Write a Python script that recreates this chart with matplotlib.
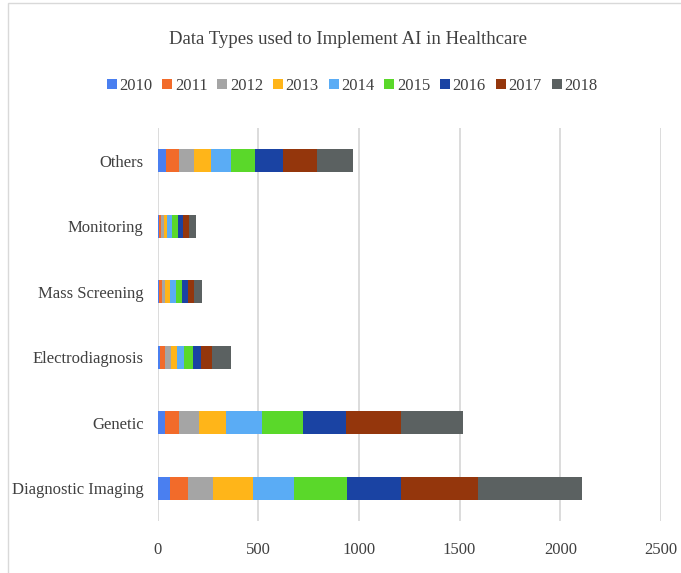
import numpy as np
import matplotlib
matplotlib.use("Agg")
import matplotlib.pyplot as plt
from matplotlib.patches import Rectangle

categories = ["Diagnostic Imaging", "Genetic", "Electrodiagnosis",
              "Mass Screening", "Monitoring", "Others"]
years = ["2010", "2011", "2012", "2013", "2014", "2015", "2016", "2017", "2018"]

# rows follow `categories`, columns follow `years`
diagnostic_imaging = [60, 90, 124, 199, 203, 264, 269, 380, 519]
genetic = [38, 68, 99, 133, 180, 202, 217, 270, 308]
electrodiagnosis = [13, 25, 28, 32, 34, 42, 41, 57, 94]
mass_screening = [8, 13, 17, 26, 26, 30, 31, 28, 40]
monitoring = [7, 10, 13, 18, 23, 30, 28, 28, 36]
others = [41, 68, 73, 82, 102, 119, 137, 168, 179]

x_ticks = [0, 500, 1000, 1500, 2000, 2500]

colors = ["#4a7ff0", "#f26b2a", "#a5a5a5", "#ffb519", "#5aacf5",
          "#5ad82a", "#1a43a3", "#94360c", "#5b6161"]
text_col = "#404040"

plt.rcParams["font.family"] = ["Liberation Serif", "DejaVu Serif"]

data = np.array([diagnostic_imaging, genetic, electrodiagnosis,
                 mass_screening, monitoring, others], dtype=float)

fig = plt.figure(figsize=(6.81, 5.73), dpi=100)
ax = fig.add_axes([157.5 / 681, 1 - 521 / 573,
                   (661 - 157.5) / 681, (521 - 128) / 573])

# thin frame around the whole chart (runs off the right and bottom edges)
fig.patches.append(Rectangle((8 / 681, -0.1), 1.2, 1.1 - 3 / 573,
                             transform=fig.transFigure, fill=False,
                             ec="#d9d9d9", lw=1.0))

y = np.arange(len(categories))
left = np.zeros(len(categories))
for i, yr in enumerate(years):
    ax.barh(y, data[:, i], left=left, height=0.35, color=colors[i],
            label=yr, zorder=3)
    left += data[:, i]

ax.set_xlim(0, 2500)
ax.set_ylim(-0.5, len(categories) - 0.5)
ax.set_xticks(x_ticks)
ax.set_yticks(y)
ax.set_yticklabels(categories)
ax.grid(axis="x", color="#d9d9d9", lw=1.3, zorder=0)
for s in ax.spines.values():
    s.set_visible(False)
ax.tick_params(length=0, labelsize=12, colors=text_col)
ax.tick_params(axis="x", pad=15)
ax.tick_params(axis="y", pad=10)

fig.text(348 / 681, 1 - 40 / 573, "Data Types used to Implement AI in Healthcare",
         ha="center", va="center", fontsize=13.5, color=text_col)

fig.legend(loc="center", bbox_to_anchor=(352 / 681, 1 - 86 / 573), ncol=9,
           frameon=False, fontsize=12, handlelength=0.6, handleheight=0.6,
           handletextpad=0.15, columnspacing=0.6, labelcolor=text_col)

fig.savefig("out.png", dpi=100)
